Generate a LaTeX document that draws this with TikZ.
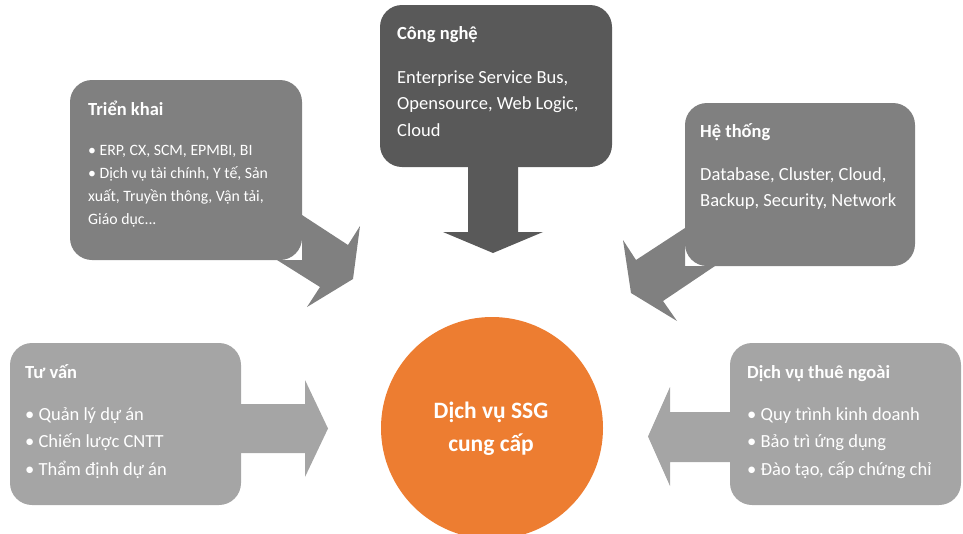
\documentclass[tikz,border=0pt]{standalone}
\usepackage{fontspec}
\setmainfont{Carlito}
\usetikzlibrary{positioning}

\definecolor{lightbox}{HTML}{A5A5A5}
\definecolor{midbox}{HTML}{808080}
\definecolor{darkbox}{HTML}{595959}
\definecolor{ssgorange}{HTML}{ED7D31}
\newcommand{\tkdots}{...}

\begin{document}
\begin{tikzpicture}[x=1pt,y=-1pt,
    box/.style={rectangle, rounded corners=22pt, draw=none, inner sep=0pt},
    title/.style={anchor=base west, inner sep=0pt, text=white, font=\fontsize{18.5}{18.5}\selectfont\bfseries},
    txt/.style={anchor=base west, inner sep=0pt, text=white, font=\fontsize{18.5}{18.5}\selectfont},
    smalltxt/.style={anchor=base west, inner sep=0pt, text=white, font=\fontsize{15.8}{15.8}\selectfont}]

    \useasboundingbox (0,0) rectangle (963,533);

    % the five boxes
    \node[box, fill=midbox, minimum width=232, minimum height=180] (trienkhai) at (186,170) {};
    \node[box, fill=darkbox, minimum width=232, minimum height=162] (congnghe) at (496,86) {};
    \node[box, fill=midbox, minimum width=230, minimum height=163] (hethong) at (800,184.5) {};
    \node[box, fill=lightbox, minimum width=231, minimum height=162] (tuvan) at (125.5,424) {};
    \node[box, fill=lightbox, minimum width=231, minimum height=162] (thuengoai) at (845.5,424) {};

    % arrows towards the centre
    \fill[midbox] (277,260) -- (320,287) -- (307,307) -- (353,279) -- (360,226) -- (348,245) -- (302,215) -- (302,260) -- cycle;
    \fill[darkbox] (468,166) -- (468,232) -- (443,232) -- (493,253) -- (543,232) -- (518,232) -- (518,166) -- cycle;
    \fill[midbox] (685,228) -- (636,260) -- (623,240) -- (631,293) -- (677,321) -- (663,301) -- (715,266) -- (685,266) -- cycle;
    \fill[lightbox] (240,404) -- (305,404) -- (305,380) -- (328,428.5) -- (305,477) -- (305,453) -- (240,453) -- cycle;
    \fill[lightbox] (731,412) -- (670,412) -- (670,387) -- (648,436.5) -- (670,486) -- (670,462) -- (731,462) -- cycle;

    \node[circle, fill=ssgorange, minimum size=222, inner sep=0pt] (ssg) at (492,428) {};
    \node[text=white, font=\fontsize{23.5}{23.5}\selectfont\bfseries, anchor=base] (ssg1) at (491,418) {Dịch vụ SSG};
    \node[text=white, font=\fontsize{23.5}{23.5}\selectfont\bfseries, anchor=base] (ssg2) at (491,451) {cung cấp};

    % texts
    \node[title] (tk0) at (88,115) {Triển khai};
    \foreach \t [count=\i] in {{• ERP, CX, SCM, EPMBI, BI},{• Dịch vụ tài chính, Y tế, Sản},{xuất, Truyền thông, Vận tải,},{Giáo dục\tkdots}}
        \node[smalltxt] (tk\i) at (88,155+23.3*\i-23.3) {\t};

    \node[title] (cn0) at (397,39) {Công nghệ};
    \foreach \t [count=\i] in {{Enterprise Service Bus,},{Opensource, Web Logic,},{Cloud}}
        \node[txt] (cn\i) at (397,83+26.7*\i-26.7) {\t};

    \node[title] (ht0) at (700,137) {Hệ thống};
    \foreach \t [count=\i] in {{Database, Cluster, Cloud,},{Backup, Security, Network}}
        \node[txt] (ht\i) at (700,180+26.5*\i-26.5) {\t};

    \node[title] (tv0) at (25,378) {Tư vấn};
    \foreach \t [count=\i] in {{• Quản lý dự án},{• Chiến lược CNTT},{• Thẩm định dự án}}
        \node[txt] (tv\i) at (25,420.5+27.3*\i-27.3) {\t};

    \node[title] (tn0) at (747,378) {Dịch vụ thuê ngoài};
    \foreach \t [count=\i] in {{• Quy trình kinh doanh},{• Bảo trì ứng dụng},{• Đào tạo, cấp chứng chỉ}}
        \node[txt] (tn\i) at (747,420.5+27.3*\i-27.3) {\t};
    \end{tikzpicture}
\end{document}
